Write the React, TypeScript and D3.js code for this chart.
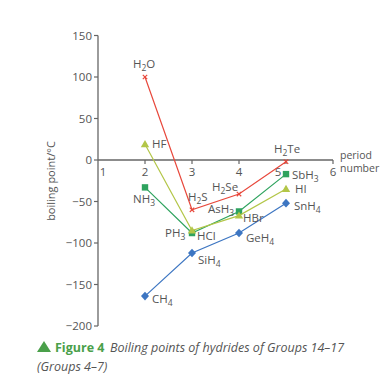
import React from "react";
import * as d3 from "d3";

const periods = [2, 3, 4, 5];
const group14 = [-164, -112, -88, -52];
const group15 = [-33, -88, -62, -17];
const group16 = [100, -60, -41, -2];
const group17 = [19, -85, -67, -35];
const names14 = ["CH4", "SiH4", "GeH4", "SnH4"];
const names15 = ["NH3", "PH3", "AsH3", "SbH3"];
const names16 = ["H2O", "H2S", "H2Se", "H2Te"];
const names17 = ["HF", "HCl", "HBr", "HI"];
const yTicks = [150, 100, 50, 0, -50, -100, -150, -200];
const xTicks = [1, 2, 3, 4, 5, 6];

const W = 388, H = 381;
const x = d3.scaleLinear().domain([1, 6]).range([98, 333]);
const y = d3.scaleLinear().domain([-200, 150]).range([326, 35.5]);

const font = "'Open Sans', 'Noto Sans', sans-serif";
const grey = "#555";

type Series = { vals: number[]; names: string[]; color: string; marker: string; offs: [number, number][] };

const series: Series[] = [
  {
    vals: group14, names: names14, color: "#3d76c2", marker: "diamond",
    offs: [[7, 7], [6, 11], [7, 9], [8, 7]],
  },
  {
    vals: group15, names: names15, color: "#2ea35e", marker: "square",
    offs: [[-12, 16], [-27, 4], [-31, 2], [6, 5]],
  },
  {
    vals: group16, names: names16, color: "#e8483c", marker: "x",
    offs: [[-12, -9], [-4, -9], [-27, -3], [-12, -9]],
  },
  {
    vals: group17, names: names17, color: "#b3c648", marker: "triangle",
    offs: [[7, 4], [5, 9], [4, 6], [9, 4]],
  },
];

function Chem({ name, px, py }: { name: string; px: number; py: number }) {
  const parts = name.match(/[A-Za-z]+|\d+/g) || [];
  return (
    <text x={px} y={py} fontSize={11.5} fill={grey} fontFamily={font}>
      {parts.map((p, i) =>
        /\d/.test(p) ? (
          <tspan key={i} fontSize={8.5} dy={3}>{p}</tspan>
        ) : (
          <tspan key={i} dy={i > 0 && /\d/.test(parts[i - 1]) ? -3 : 0}>{p}</tspan>
        )
      )}
    </text>
  );
}

function Marker({ kind, cx, cy, color }: { kind: string; cx: number; cy: number; color: string }) {
  if (kind === "square") return <rect x={cx - 3.2} y={cy - 3.2} width={6.4} height={6.4} fill={color} />;
  if (kind === "diamond") return <path d={`M${cx},${cy - 4.3}L${cx + 4},${cy}L${cx},${cy + 4.3}L${cx - 4},${cy}Z`} fill={color} />;
  if (kind === "triangle") return <path d={`M${cx},${cy - 4.2}L${cx + 4.2},${cy + 3}L${cx - 4.2},${cy + 3}Z`} fill={color} />;
  return (
    <g stroke={color} strokeWidth={1.2}>
      <line x1={cx - 2.2} y1={cy - 2.2} x2={cx + 2.2} y2={cy + 2.2} />
      <line x1={cx - 2.2} y1={cy + 2.2} x2={cx + 2.2} y2={cy - 2.2} />
    </g>
  );
}

export default function App() {
  const line = d3.line<[number, number]>().x((d) => x(d[0])).y((d) => y(d[1]));
  return (
    <svg width={W} height={H} style={{ position: "absolute", left: 0, top: 0, background: "#fff" }}>
      {/* y axis */}
      <line x1={x(1)} x2={x(1)} y1={y(150)} y2={y(-200)} stroke="#666" strokeWidth={1.3} />
      {yTicks.map((t) => (
        <g key={t}>
          <line x1={x(1) - 4} x2={x(1)} y1={y(t)} y2={y(t)} stroke="#666" strokeWidth={1.2} />
          <text x={x(1) - 6} y={y(t) + 4} textAnchor="end" fontSize={11.5} fill={grey} fontFamily={font}>
            {t < 0 ? "\u2212" + Math.abs(t) : t}
          </text>
        </g>
      ))}
      <text transform={`translate(55,${181}) rotate(-90)`} textAnchor="middle" fontSize={11} fill={grey} fontFamily={font}>
        boiling point/°C
      </text>
      {/* x axis */}
      <line x1={x(1)} x2={x(6)} y1={y(0)} y2={y(0)} stroke="#666" strokeWidth={1.3} />
      {xTicks.map((t) => (
        <g key={t}>
          {t > 1 && <line x1={x(t)} x2={x(t)} y1={y(0)} y2={y(0) + 4} stroke="#666" strokeWidth={1.2} />}
          <text
            x={t === 1 ? x(t) + 5 : t === 5 ? x(t) - 8 : x(t)}
            y={y(0) + 16}
            textAnchor="middle"
            fontSize={11.5}
            fill={grey}
            fontFamily={font}
          >
            {t}
          </text>
        </g>
      ))}
      <text x={340} y={159} fontSize={10.5} fill={grey} fontFamily={font}>period</text>
      <text x={340} y={172} fontSize={10.5} fill={grey} fontFamily={font}>number</text>
      {/* series */}
      {series.map((s, si) => {
        const pts = periods.map((p, i) => [p, s.vals[i]] as [number, number]);
        return (
          <g key={si}>
            <path d={line(pts) || ""} fill="none" stroke={s.color} strokeWidth={1.2} />
            {pts.map((d, i) => (
              <Marker key={i} kind={s.marker} cx={x(d[0])} cy={y(d[1])} color={s.color} />
            ))}
          </g>
        );
      })}
      {series.map((s, si) =>
        periods.map((p, i) => (
          <Chem key={si + "-" + i} name={s.names[i]} px={x(p) + s.offs[i][0]} py={y(s.vals[i]) + s.offs[i][1]} />
        ))
      )}
      {/* caption */}
      <path d="M37,352 L44,341 L51,352 Z" fill="#4aa04a" />
      <text x={55} y={352} fontSize={12.5} fontWeight="bold" fill="#4aa04a" fontFamily={font}>Figure 4</text>
      <text x={110} y={352} fontSize={12.5} fontStyle="italic" fill={grey} fontFamily={font}>
        Boiling points of hydrides of Groups 14–17
      </text>
      <text x={37} y={371} fontSize={12.5} fontStyle="italic" fill={grey} fontFamily={font}>(Groups 4–7)</text>
    </svg>
  );
}
